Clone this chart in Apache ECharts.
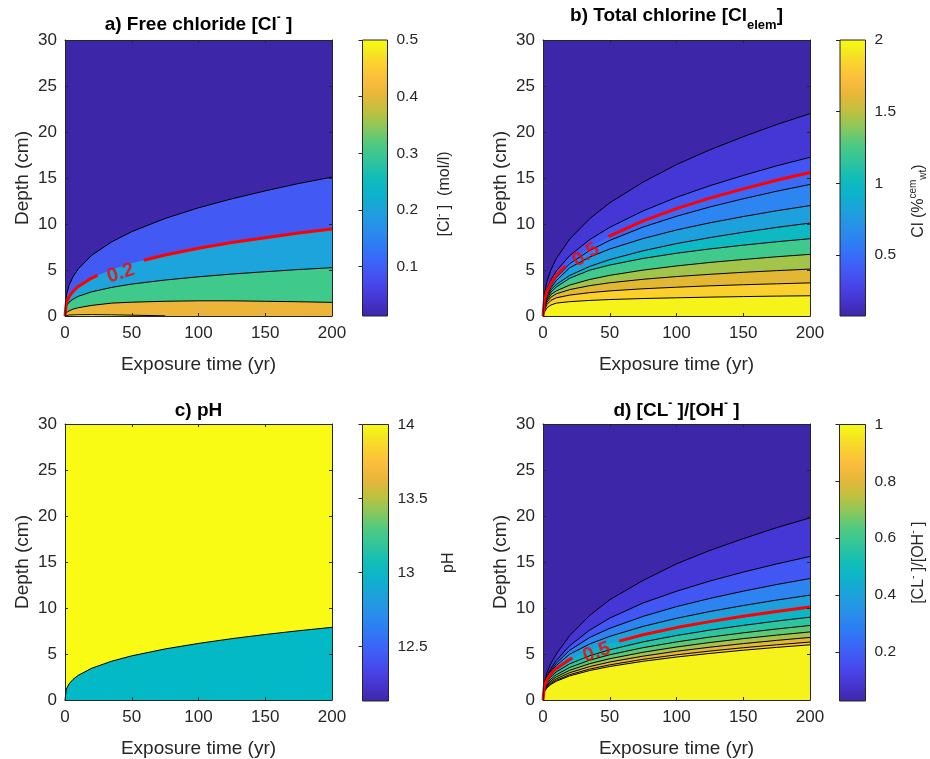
<!DOCTYPE html>
<html><head><meta charset="utf-8">
<script src="https://cdn.jsdelivr.net/npm/echarts@6/dist/echarts.min.js"></script>
<style>html,body{margin:0;padding:0;background:#fff}#c{width:930px;height:759px}</style>
</head><body><div id="c"></div>
<script>
// ---------- data ----------
const T = [0, 1, 3, 6, 10, 20, 35, 50, 75, 100, 125, 150, 175, 200];

// a) free chloride, contour levels 0.1 .. 0.5 (depth in cm)
const a_L01 = [0, 2.25, 3.32, 4.27, 5.13, 6.60, 8.06, 9.17, 10.6, 11.76, 12.74, 13.6, 14.4, 15.1];
const a_L02 = [0, 1.41, 2.08, 2.67, 3.21, 4.13, 5.05, 5.74, 6.63, 7.36, 7.98, 8.51, 9.01, 9.45];
const a_L03 = [0, 1.07, 1.49, 1.83, 2.14, 2.63, 3.11, 3.47, 3.91, 4.26, 4.56, 4.81, 5.05, 5.25];
const a_L04 = [0, 0.35, 0.55, 0.75, 0.9, 1.15, 1.4, 1.5, 1.6, 1.65, 1.65, 1.6, 1.55, 1.48];
const a_L05_t = [0, 3, 10, 20, 35, 50, 75];
const a_L05 = [0, 0.1, 0.14, 0.15, 0.13, 0.09, 0.02];
const a_gap = [[24.5, 4.41], [59, 6.06]];
const a_label = [41.7, 4.64];

// b) total chlorine
const b_L01 = [0, 2.38, 3.76, 5.04, 6.25, 8.36, 10.58, 12.30, 14.56, 16.46, 18.06, 19.49, 20.81, 22.0];
const b_L02 = [0, 1.86, 2.95, 3.95, 4.90, 6.56, 8.30, 9.64, 11.42, 12.90, 14.16, 15.28, 16.32, 17.25];
const b_L03 = [0, 1.68, 2.67, 3.57, 4.43, 5.93, 7.50, 8.72, 10.33, 11.67, 12.81, 13.82, 14.76, 15.6];
const b_L04 = [0, 1.55, 2.5, 3.35, 4.2, 5.69, 7.12, 8.22, 9.67, 10.84, 11.85, 12.74, 13.56, 14.3];
const b_L05 = [0, 1.4, 2.3, 3.1, 3.85, 5.24, 6.41, 7.28, 8.42, 9.35, 10.13, 10.81, 11.44, 12.0];
const b_L06 = [0, 1.25, 2.1, 2.86, 3.43, 4.41, 5.39, 6.13, 7.09, 7.87, 8.52, 9.10, 9.63, 10.1];
const b_L07 = [0, 1.1, 1.9, 2.6, 3.15, 4.1, 4.98, 5.54, 6.26, 6.82, 7.29, 7.70, 8.07, 8.4];
const b_L08 = [0, 0.95, 1.7, 2.34, 2.73, 3.36, 3.97, 4.42, 4.99, 5.44, 5.82, 6.14, 6.44, 6.7];
const b_L09 = [0, 0.8, 1.5, 2.05, 2.41, 2.87, 3.30, 3.61, 3.99, 4.29, 4.53, 4.75, 4.93, 5.1];
const b_L10 = [0, 0.6, 1.25, 1.7, 1.98, 2.27, 2.54, 2.73, 2.96, 3.13, 3.28, 3.40, 3.50, 3.6];
const b_L11 = [0, 0.4, 0.9, 1.2, 1.40, 1.56, 1.69, 1.79, 1.90, 1.98, 2.05, 2.11, 2.16, 2.2];
const b_gap = [[16.7, 5.44], [49, 8.64]];
const b_label = [32.1, 6.63];

// c) pH
const c_L01 = [0, 1.18, 1.74, 2.24, 2.69, 3.45, 4.22, 4.80, 5.55, 6.15, 6.67, 7.12, 7.53, 7.9];

// d) [Cl-]/[OH-]
const d_L01 = [0, 1.9, 3.0, 4.0, 5.0, 7.0, 9.2, 10.9, 13.0, 14.8, 16.26, 17.54, 18.73, 19.8];
const d_L02 = [0, 1.75, 2.65, 3.45, 4.3, 5.9, 7.6, 8.9, 10.55, 11.82, 12.93, 13.90, 14.79, 15.6];
const d_L03 = [0, 1.62, 2.5, 3.2, 4.0, 5.4, 6.8, 7.79, 9.09, 10.15, 11.04, 11.83, 12.55, 13.2];
const d_L04 = [0, 1.56, 2.38, 3.05, 3.75, 4.98, 6.09, 6.92, 8.00, 8.88, 9.62, 10.27, 10.86, 11.4];
const d_L05 = [0, 1.50, 2.22, 2.86, 3.43, 4.41, 5.39, 6.13, 7.09, 7.87, 8.52, 9.10, 9.63, 10.1];
const d_L06 = [0, 1.34, 1.98, 2.55, 3.06, 3.93, 4.81, 5.46, 6.32, 7.01, 7.60, 8.11, 8.58, 9.0];
const d_L07 = [0, 1.21, 1.78, 2.29, 2.75, 3.54, 4.33, 4.92, 5.69, 6.31, 6.84, 7.30, 7.72, 8.1];
const d_L08 = [0, 1.10, 1.63, 2.09, 2.52, 3.23, 3.95, 4.49, 5.19, 5.76, 6.25, 6.67, 7.05, 7.4];
const d_L09 = [0, 1.01, 1.50, 1.92, 2.31, 2.97, 3.63, 4.13, 4.77, 5.30, 5.74, 6.13, 6.48, 6.8];
const d_L10 = [0, 0.94, 1.39, 1.78, 2.14, 2.75, 3.36, 3.82, 4.42, 4.91, 5.32, 5.68, 6.00, 6.3];
const d_L11 = [0, 0.89, 1.32, 1.70, 2.04, 2.62, 3.20, 3.64, 4.21, 4.67, 5.06, 5.41, 5.72, 6.0];
const d_gap = [[22.1, 4.55], [57, 6.40]];
const d_label = [40.3, 5.17];

// colorbar ranges and ticks
const a_cb = [0.013, 0.5], a_cbTicks = [0.1, 0.2, 0.3, 0.4, 0.5];
const b_cb = [0.074, 2.0], b_cbTicks = [0.5, 1, 1.5, 2];
const c_cb = [12.13, 14.0], c_cbTicks = [12.5, 13, 13.5, 14];
const d_cb = [0.027, 1.0], d_cbTicks = [0.2, 0.4, 0.6, 0.8, 1];

// ---------- styles ----------
const FONT = '"Liberation Sans", Arial, Helvetica, sans-serif';
const INK = '#262626';
const PARULA = [
  [0.00, '#3E26A8'], [0.06, '#4535CF'], [0.12, '#4748EC'], [0.18, '#3F5EF7'], [0.25, '#2F79F6'],
  [0.31, '#2A8CEB'], [0.375, '#1E9FDD'], [0.44, '#0DB2CB'], [0.50, '#10BDB8'], [0.56, '#2FC59C'],
  [0.62, '#4CCA82'], [0.68, '#88C75E'], [0.74, '#BFC03F'], [0.80, '#E8B63A'], [0.86, '#FCBE3C'],
  [0.92, '#F9D52C'], [0.96, '#F4EA1E'], [1.00, '#F9FB14']
];

const panels = [
  { bg: '#3E26A8', curves: [a_L01, a_L02, a_L03, a_L04, a_L05], ts: [T, T, T, T, a_L05_t],
    fills: ['#4359F4', '#1EA4DC', '#3FC98A', '#ECB53A', '#F9FB14'], red: 1, gap: a_gap, label: a_label, labelText: '0.2', rot: 18 },
  { bg: '#3E26A8', curves: [b_L01, b_L02, b_L03, b_L04, b_L05, b_L06, b_L07, b_L08, b_L09, b_L10, b_L11], ts: null,
    fills: ['#4537D5', '#4355F3', '#3A6AF6', '#2C85F0', '#1EA0DD', '#0DBAC3', '#3FC98C', '#A3C44A', '#E2B734', '#FBCF2C', '#F6F31A'],
    red: 2, gap: b_gap, label: b_label, labelText: '0.5', rot: 34 },
  { bg: '#F9FB14', curves: [c_L01], ts: null, fills: ['#02B9C5'], red: -1 },
  { bg: '#3E26A8', curves: [d_L01, d_L02, d_L03, d_L04, d_L05, d_L06, d_L07, d_L08, d_L09, d_L10, d_L11], ts: null,
    fills: ['#4537D5', '#4156F3', '#2D84F0', '#1E9FDC', '#0BB6C6', '#2DC4A2', '#5CC974', '#A8C24A', '#E2B836', '#F9C930', '#F6F31A'],
    red: 4, gap: d_gap, label: d_label, labelText: '0.5', rot: 20 }
];

const mainGrids = [
  { left: 65, top: 40, width: 267, height: 276 },
  { left: 543, top: 40, width: 267, height: 276 },
  { left: 65, top: 424, width: 267, height: 277 },
  { left: 543, top: 424, width: 267, height: 277 }
];
const cbGrids = [
  { left: 362.5, top: 40, width: 25, height: 276 },
  { left: 840, top: 40, width: 25.5, height: 276 },
  { left: 362.5, top: 424.5, width: 26, height: 276.5 },
  { left: 839.5, top: 424.5, width: 26, height: 276.5 }
];
const cbDefs = [
  { r: a_cb, ticks: a_cbTicks, name: '[Cl{s|-} ]  (mol/l)', gap: 47, pad: [0, 32, 0, 0] },
  { r: b_cb, ticks: b_cbTicks, name: 'Cl (%{s|cem}{b|wt})', gap: 43, pad: [0, 46, 0, 0] },
  { r: c_cb, ticks: c_cbTicks, name: 'pH', gap: 50, pad: 0 },
  { r: d_cb, ticks: d_cbTicks, name: '[CL{s|-} ]/[OH{s|-} ]', gap: 43, pad: 0 }
];

const grad = () => new echarts.graphic.LinearGradient(0, 1, 0, 0,
  PARULA.map(([o, c]) => ({ offset: o, color: c })));

const grid = [], xAxis = [], yAxis = [], series = [];
mainGrids.forEach((g, i) => {
  grid.push(Object.assign({ show: true, backgroundColor: panels[i].bg, borderWidth: 0 }, g));
  const lineS = { show: true, onZero: false, lineStyle: { color: INK, width: 1 } };
  const tickS = { show: true, inside: true, length: 3, lineStyle: { color: INK, width: 1 } };
  xAxis.push({ gridIndex: i, type: 'value', min: 0, max: 200, interval: 50, position: 'bottom', z: 10,
    axisLine: lineS, axisTick: tickS, splitLine: { show: false },
    axisLabel: { color: INK, fontSize: 17, fontFamily: FONT, margin: 9, showMinLabel: true, showMaxLabel: true },
    name: 'Exposure time (yr)', nameLocation: 'middle', nameGap: 39,
    nameTextStyle: { color: INK, fontSize: 19, fontFamily: FONT } });
  xAxis.push({ gridIndex: i, type: 'value', min: 0, max: 200, interval: 50, position: 'top', z: 10,
    axisLine: lineS, axisTick: tickS, splitLine: { show: false }, axisLabel: { show: false } });
  yAxis.push({ gridIndex: i, type: 'value', min: 0, max: 30, interval: 5, position: 'left', z: 10,
    axisLine: lineS, axisTick: tickS, splitLine: { show: false },
    axisLabel: { color: INK, fontSize: 17, fontFamily: FONT, margin: 8 },
    name: 'Depth (cm)', nameLocation: 'middle', nameGap: 33, nameRotate: 90,
    nameTextStyle: { color: INK, fontSize: 19, fontFamily: FONT } });
  yAxis.push({ gridIndex: i, type: 'value', min: 0, max: 30, interval: 5, position: 'right', z: 10,
    axisLine: lineS, axisTick: tickS, splitLine: { show: false }, axisLabel: { show: false } });
});
cbGrids.forEach((g, k) => {
  const d = cbDefs[k];
  grid.push(Object.assign({ show: true, backgroundColor: grad(), borderColor: INK, borderWidth: 1 }, g));
  xAxis.push({ gridIndex: 4 + k, type: 'value', min: 0, max: 1, show: false });
  yAxis.push({ gridIndex: 4 + k, type: 'value', min: d.r[0], max: d.r[1], position: 'right', z: 10,
    axisLine: { show: false }, splitLine: { show: false },
    axisTick: { show: true, inside: true, length: 4, customValues: d.ticks, lineStyle: { color: INK } },
    axisLabel: { customValues: d.ticks, color: INK, fontSize: 15.5, fontFamily: FONT, margin: 9 },
    name: d.name, nameLocation: 'middle', nameGap: d.gap, nameRotate: 90,
    nameTextStyle: { color: INK, fontSize: 16, fontFamily: FONT, lineHeight: 20, padding: d.pad,
      rich: { s: { fontSize: 10, lineHeight: 10, verticalAlign: 'top', color: INK, fontFamily: FONT },
              b: { fontSize: 10, lineHeight: 10, verticalAlign: 'bottom', color: INK, fontFamily: FONT } } } });
  series.push({ type: 'line', xAxisIndex: 8 + k, yAxisIndex: 8 + k, data: [], silent: true });
});

panels.forEach((p, i) => {
  p.curves.forEach((dv, j) => {
    const tv = (p.ts && p.ts[j]) || T;
    const isRed = j === p.red;
    series.push({
      type: 'line', xAxisIndex: 2 * i, yAxisIndex: 2 * i, z: 2, silent: true, animation: false,
      symbol: 'none', showSymbol: false, smooth: false,
      data: tv.map((t, n) => [t, dv[n]]),
      lineStyle: { color: '#000', width: isRed ? 0 : 1, opacity: isRed ? 0 : 1 },
      areaStyle: { color: p.fills[j], opacity: 1, origin: 'start' }
    });
  });
  if (p.red >= 0) {
    const dv = p.curves[p.red];
    const pts = T.map((t, n) => [t, dv[n]]);
    const piece1 = pts.filter(q => q[0] < p.gap[0][0]).concat([p.gap[0]]);
    const piece2 = [p.gap[1]].concat(pts.filter(q => q[0] > p.gap[1][0]));
    [piece1, piece2].forEach(pc => series.push({
      type: 'line', xAxisIndex: 2 * i, yAxisIndex: 2 * i, z: 3, silent: true, animation: false,
      symbol: 'none', showSymbol: false, data: pc,
      lineStyle: { color: '#FF0000', width: 3, cap: 'butt' }
    }));
    series.push({
      type: 'scatter', xAxisIndex: 2 * i, yAxisIndex: 2 * i, z: 4, silent: true, animation: false,
      symbolSize: 0, data: [p.label],
      label: { show: true, position: 'inside', formatter: p.labelText, rotate: p.rot,
        color: '#FF0000', fontSize: 20, fontWeight: 'bold', fontFamily: FONT }
    });
  }
});

const titleRich = {
  s: { fontSize: 12, fontWeight: 'bold', lineHeight: 12, verticalAlign: 'top', color: '#000', fontFamily: FONT },
  b: { fontSize: 13, fontWeight: 'bold', lineHeight: 14, padding: [18, 0, 0, 0], verticalAlign: 'middle', color: '#000', fontFamily: FONT }
};
const mkTitle = (text, cx, top) => ({
  text, left: cx, top, textAlign: 'center', padding: 0,
  textStyle: { fontSize: 19, fontWeight: 'bold', color: '#000', fontFamily: FONT, lineHeight: 26, rich: titleRich }
});

const option = {
  backgroundColor: '#fff',
  animation: false,
  title: [
    mkTitle('a) Free chloride [Cl{s|-} ]', 198.5, 12),
    mkTitle('b) Total chlorine [Cl{b|elem}]', 676.5, 3),
    mkTitle('c) pH', 198.5, 398),
    mkTitle('d) [CL{s|-} ]/[OH{s|-} ]', 676.5, 398)
  ],
  grid, xAxis, yAxis, series
};

const chart = echarts.init(document.getElementById('c'), null, { renderer: 'canvas' });
chart.setOption(option);
</script></body></html>
